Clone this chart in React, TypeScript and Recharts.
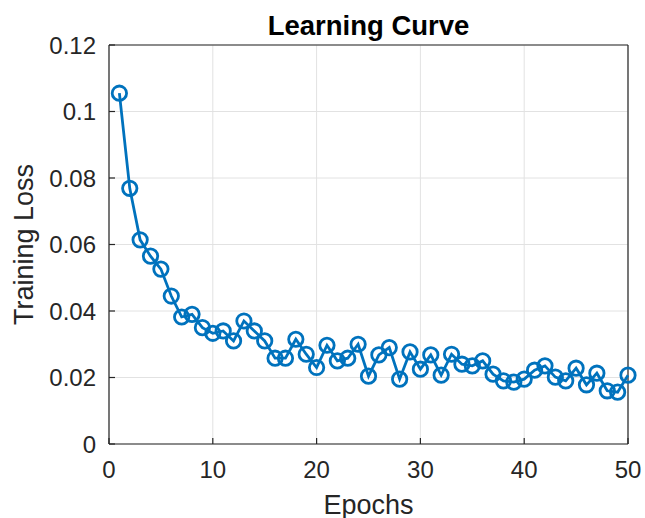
import { CartesianGrid, Line, LineChart, ReferenceLine, XAxis, YAxis } from "recharts";

const epochs = [
  1, 2, 3, 4, 5, 6, 7, 8, 9, 10, 11, 12, 13, 14, 15, 16, 17, 18, 19, 20, 21, 22, 23, 24, 25,
  26, 27, 28, 29, 30, 31, 32, 33, 34, 35, 36, 37, 38, 39, 40, 41, 42, 43, 44, 45, 46, 47, 48, 49, 50,
];

const losses = [
  0.1055, 0.0769, 0.0614, 0.0565, 0.0526, 0.0445, 0.0382, 0.039, 0.035, 0.0333,
  0.034, 0.031, 0.037, 0.034, 0.031, 0.0258, 0.0258, 0.0315, 0.027, 0.023,
  0.0297, 0.025, 0.0258, 0.03, 0.0204, 0.0268, 0.029, 0.0195, 0.0277, 0.0225,
  0.0268, 0.0207, 0.027, 0.024, 0.0235, 0.025, 0.021, 0.019, 0.0186, 0.0195,
  0.0222, 0.0235, 0.0201, 0.019, 0.0228, 0.0178, 0.0213, 0.016, 0.0156, 0.0207,
];

const xTicks = [0, 10, 20, 30, 40, 50];
const yTicks = [0, 0.02, 0.04, 0.06, 0.08, 0.1, 0.12];

const data = epochs.map((epoch, i) => ({ epoch, loss: losses[i] }));

const FONT = "'Liberation Sans', Arial, sans-serif";
const AXIS = "#262626";
const BLUE = "#0072BD";

const tickStyle = { fontSize: 24, fill: AXIS, fontFamily: FONT };
const frame = { stroke: AXIS, strokeWidth: 1.2 };
const tickMark = { stroke: AXIS, strokeWidth: 1.2 };

export default function App() {
  return (
    <div style={{ position: "absolute", left: 0, top: 0, background: "#fff" }}>
      <LineChart
        width={645}
        height={518}
        data={data}
        margin={{ top: 45, right: 17, left: 0, bottom: 0 }}
      >
        <CartesianGrid stroke="#e2e2e2" strokeWidth={1} />
        <XAxis
          dataKey="epoch"
          type="number"
          domain={[0, 50]}
          ticks={xTicks}
          height={74}
          axisLine={frame}
          tickLine={tickMark}
          tickSize={-6}
          tickMargin={23}
          tick={tickStyle}
          label={{
            value: "Epochs",
            position: "insideBottom",
            offset: 4,
            fontSize: 27,
            fill: AXIS,
            fontFamily: FONT,
          }}
        />
        <YAxis
          type="number"
          domain={[0, 0.12]}
          ticks={yTicks}
          width={109}
          axisLine={frame}
          tickLine={tickMark}
          tickSize={-6}
          tickMargin={19}
          tick={tickStyle}
          label={{
            value: "Training Loss",
            angle: -90,
            position: "center",
            dx: -31,
            fontSize: 27,
            fill: AXIS,
            fontFamily: FONT,
          }}
        />
        {/* box: top and right edges */}
        <ReferenceLine
          y={0.12}
          stroke={AXIS}
          strokeWidth={1.2}
          label={{
            value: "Learning Curve",
            position: "top",
            offset: 10,
            fontSize: 27.5,
            fontWeight: "bold",
            fill: "#000",
            fontFamily: FONT,
          }}
        />
        <ReferenceLine x={50} stroke={AXIS} strokeWidth={1.2} />
        <Line
          type="linear"
          dataKey="loss"
          stroke={BLUE}
          strokeWidth={2.8}
          dot={{ r: 7.2, stroke: BLUE, strokeWidth: 2.8, fill: "none" }}
          isAnimationActive={false}
        />
      </LineChart>
    </div>
  );
}
